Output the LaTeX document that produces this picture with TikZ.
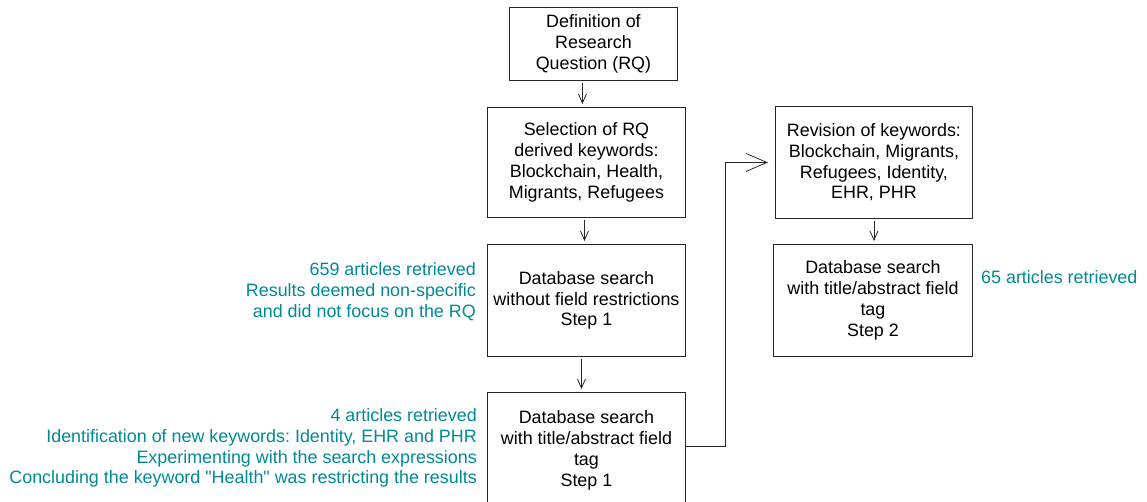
\documentclass[tikz,border=0pt]{standalone}
\usepackage{fontspec}
\setmainfont{Liberation Sans}[Ligatures=TeXOff]
\usetikzlibrary{arrows.meta}
\definecolor{tealtxt}{RGB}{0,138,150}
\frenchspacing
\begin{document}
\begin{tikzpicture}[x=1pt,y=1pt,
  box/.style={draw=black!85,line width=0.9pt,anchor=north west,inner sep=0pt,
    align=center,font=\fontsize{17.9}{20.8}\selectfont\frenchspacing},
  note/.style={text=tealtxt,inner sep=0pt,font=\fontsize{17.9}{20.8}\selectfont\frenchspacing},
  arr/.style={draw=black!85,line width=0.8pt,-{Straight Barb[length=9pt,width=8pt]},shorten <=2pt,shorten >=3pt},
  bigarr/.style={draw=black!85,line width=0.8pt,-{Straight Barb[length=21pt,width=18pt]},shorten >=7pt}]
\useasboundingbox (0,0) rectangle (1147,-502);
\fill[white] (0,0) rectangle (1147,-502);

\node[box,minimum width=168pt,minimum height=73pt] (b1) at (509,-7)
  {Definition of\\Research\\Question (RQ)};
\node[box,minimum width=198pt,minimum height=110pt] (b2) at (487,-107)
  {Selection of RQ\\derived keywords:\\Blockchain, Health,\\Migrants, Refugees};
\node[box,minimum width=198pt,minimum height=112pt] (b3) at (487,-244)
  {Database search\\without field restrictions\\Step 1};
\node[box,minimum width=198pt,minimum height=116pt] (b4) at (487,-392)
  {Database search\\with title/abstract field\\tag\\Step 1};
\node[box,minimum width=197pt,minimum height=112pt] (b5) at (775,-106)
  {Revision of keywords:\\Blockchain, Migrants,\\Refugees, Identity,\\EHR, PHR};
\node[box,minimum width=199pt,minimum height=112pt] (b6) at (773,-244)
  {Database search\\with title/abstract field\\tag\\Step 2};

\node[note,anchor=east,align=right] (n1) at (476,-292)
  {659 articles retrieved\\Results deemed non-specific\\and did not focus on the RQ};
\node[note,anchor=east,align=right] (n2) at (477,-448)
  {4 articles retrieved\\Identification of new keywords: Identity, EHR and PHR\\Experimenting with the search expressions\\Concluding the keyword "Health" was restricting the results};
\node[note,anchor=west] (n3) at (981,-277) {65 articles retrieved};

\draw[arr] ([xshift=-11pt]b1.south) -- ([xshift=-4pt]b2.north);
\draw[arr] ([xshift=-2pt]b2.south) -- ([xshift=-2pt]b3.north);
\draw[arr] ([xshift=-5pt]b3.south) -- ([xshift=-5pt]b4.north);
\draw[arr] (b5.south) -- (b5.south |- b6.north);
\draw[bigarr] ([yshift=4pt]b4.east) -- ++(39,0) |- (b5.west);
\end{tikzpicture}
\end{document}
